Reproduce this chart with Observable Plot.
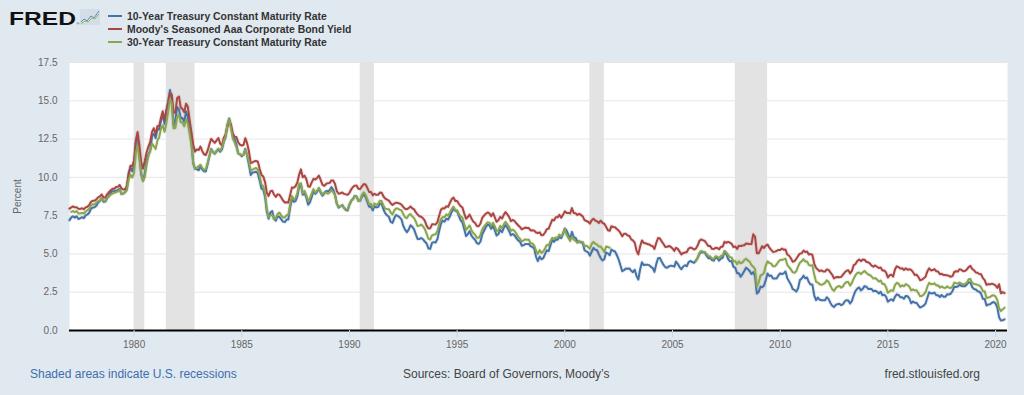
<!DOCTYPE html>
<html>
<head>
<meta charset="utf-8">
<script src="https://cdn.jsdelivr.net/npm/d3@7"></script>
<script src="https://cdn.jsdelivr.net/npm/@observablehq/plot@0.6"></script>
<style>
  html, body { margin: 0; padding: 0; background: #e1e9f0; }
  #page { position: relative; width: 1024px; height: 395px; background: #e1e9f0; overflow: hidden; font-family: "Liberation Sans", Arial, sans-serif; }
  #chart { position: absolute; left: 0; top: 0; }
  #overlay { position: absolute; left: 0; top: 0; pointer-events: none; }
</style>
</head>
<body>
<div id="page">
  <div id="chart"></div>
  <svg id="overlay" width="1024" height="395"></svg>
</div>
<script>
// ---------- DATA (monthly, Jan 1977 – Jun 2020) ----------
const firstMonth = "1977-01";
const lastMonth = "2020-06";

const seriesNames = [
  "10-Year Treasury Constant Maturity Rate",
  "Moody's Seasoned Aaa Corporate Bond Yield",
  "30-Year Treasury Constant Maturity Rate"
];
const seriesColors = ["#4572a7", "#aa4643", "#89a54e"];

const tenYear = [
7.21,7.39,7.46,7.37,7.46,7.28,7.33,7.40,7.34,7.52,7.58,7.69,
7.96,8.03,8.04,8.15,8.35,8.46,8.64,8.41,8.42,8.64,8.81,9.01,
9.10,9.10,9.12,9.18,9.25,8.91,8.95,9.03,9.33,10.30,10.65,10.39,
10.80,12.41,12.75,11.47,10.18,9.78,10.25,11.10,11.51,11.75,12.68,12.84,
12.57,13.19,13.12,13.68,14.10,13.47,14.28,14.94,15.70,15.15,13.39,13.72,
14.59,14.43,13.86,13.87,13.62,14.30,13.95,13.06,12.34,10.91,10.55,10.54,
10.46,10.72,10.51,10.40,10.38,10.85,11.38,11.85,11.65,11.54,11.69,11.83,
11.67,11.84,12.32,12.63,13.41,13.85,13.36,12.72,12.52,12.16,11.57,11.50,
11.38,11.51,11.86,11.43,10.85,10.16,10.31,10.33,10.37,10.24,9.78,9.26,
9.19,8.70,7.78,7.30,7.71,7.80,7.30,7.17,7.45,7.43,7.25,7.11,
7.08,7.25,7.25,8.02,8.61,8.40,8.45,8.76,9.42,9.52,8.86,8.99,
8.67,8.21,8.37,8.72,9.09,8.92,9.06,9.26,8.98,8.80,8.96,9.11,
9.09,9.17,9.36,9.18,8.86,8.28,8.02,8.11,8.19,8.01,7.87,7.84,
8.21,8.47,8.59,8.79,8.76,8.48,8.47,8.75,8.89,8.72,8.39,8.08,
8.09,7.85,8.11,8.04,8.07,8.28,8.27,7.90,7.65,7.53,7.42,7.09,
7.03,7.34,7.54,7.48,7.39,7.26,6.84,6.59,6.42,6.59,6.87,6.77,
6.60,6.26,5.98,5.97,6.04,5.96,5.81,5.68,5.36,5.33,5.72,5.77,
5.75,5.97,6.48,6.97,7.18,7.10,7.30,7.24,7.46,7.74,7.96,7.81,
7.78,7.47,7.20,7.06,6.63,6.17,6.28,6.49,6.20,6.04,5.93,5.71,
5.65,5.81,6.27,6.51,6.74,6.91,6.87,6.64,6.83,6.53,6.20,6.30,
6.58,6.42,6.69,6.89,6.71,6.49,6.22,6.30,6.21,6.03,5.88,5.81,
5.54,5.57,5.65,5.64,5.65,5.50,5.46,5.34,4.81,4.53,4.83,4.65,
4.72,5.00,5.23,5.18,5.54,5.90,5.79,5.94,5.92,6.11,6.03,6.28,
6.66,6.52,6.26,5.99,6.44,6.10,6.05,5.83,5.80,5.74,5.72,5.24,
5.16,5.10,4.89,5.14,5.39,5.28,5.24,4.97,4.73,4.57,4.65,5.09,
5.04,4.91,5.28,5.21,5.16,4.93,4.65,4.26,3.87,3.94,4.05,4.03,
4.05,3.90,3.81,3.96,3.57,3.33,3.98,4.45,4.27,4.29,4.30,4.27,
4.15,4.08,3.83,4.35,4.72,4.73,4.50,4.28,4.13,4.10,4.19,4.23,
4.22,4.17,4.50,4.34,4.14,4.00,4.18,4.26,4.20,4.46,4.54,4.47,
4.42,4.57,4.72,4.99,5.11,5.11,5.09,4.88,4.72,4.73,4.60,4.56,
4.76,4.72,4.56,4.69,4.75,5.10,5.00,4.67,4.52,4.53,4.15,4.10,
3.74,3.74,3.51,3.68,3.88,4.10,4.01,3.89,3.69,3.81,3.53,2.42,
2.52,2.87,2.82,2.93,3.29,3.72,3.56,3.59,3.40,3.39,3.40,3.59,
3.73,3.69,3.73,3.85,3.42,3.20,3.01,2.70,2.65,2.54,2.76,3.29,
3.39,3.58,3.41,3.46,3.17,3.00,3.00,2.30,1.98,2.15,2.01,1.98,
1.97,1.97,2.17,2.05,1.80,1.62,1.53,1.68,1.72,1.75,1.65,1.72,
1.91,1.98,1.96,1.76,1.93,2.30,2.58,2.74,2.81,2.62,2.72,2.90,
2.86,2.71,2.72,2.71,2.56,2.60,2.54,2.42,2.53,2.30,2.33,2.21,
1.88,1.98,2.04,1.94,2.20,2.36,2.32,2.17,2.17,2.07,2.26,2.24,
2.09,1.78,1.89,1.81,1.81,1.64,1.50,1.56,1.63,1.76,2.14,2.49,
2.43,2.42,2.48,2.30,2.30,2.19,2.32,2.21,2.20,2.36,2.35,2.40,
2.58,2.86,2.84,2.87,2.98,2.91,2.89,2.89,3.00,3.15,3.12,2.83,
2.71,2.68,2.57,2.53,2.40,2.07,2.06,1.63,1.70,1.71,1.81,1.86,
1.76,1.50,0.87,0.66,0.67,0.73
];

const aaaYield = [
7.96,8.04,8.10,8.04,8.05,7.95,7.94,7.98,7.92,8.04,8.08,8.19,
8.41,8.47,8.47,8.56,8.69,8.76,8.88,8.69,8.69,8.89,9.03,9.16,
9.25,9.26,9.37,9.38,9.50,9.29,9.20,9.23,9.44,10.13,10.76,10.74,
11.09,12.38,12.96,12.04,10.99,10.58,11.07,11.64,12.02,12.31,12.97,13.21,
12.81,13.35,13.33,13.88,14.32,13.75,14.38,14.89,15.49,15.40,14.22,14.23,
15.18,15.27,14.58,14.46,14.26,14.81,14.61,13.71,12.94,12.12,11.68,11.83,
11.79,12.01,11.73,11.51,11.46,11.74,12.15,12.51,12.37,12.25,12.41,12.57,
12.20,12.08,12.57,12.81,13.28,13.70,13.44,12.87,12.66,12.63,12.29,12.13,
12.08,12.13,12.56,12.23,11.72,10.94,10.97,11.05,11.07,11.02,10.55,10.16,
10.05,9.67,9.00,8.79,9.09,9.13,8.88,8.72,8.89,8.86,8.68,8.49,
8.36,8.38,8.36,8.85,9.33,9.32,9.42,9.67,10.18,10.52,10.01,10.11,
9.88,9.40,9.39,9.67,9.90,9.86,9.96,10.11,9.82,9.51,9.45,9.57,
9.62,9.64,9.80,9.79,9.57,9.10,8.93,8.96,9.01,8.92,8.89,8.86,
8.99,9.22,9.37,9.46,9.47,9.26,9.24,9.41,9.56,9.53,9.30,9.05,
9.04,8.83,8.93,8.86,8.86,9.01,9.00,8.75,8.61,8.55,8.48,8.31,
8.20,8.29,8.35,8.33,8.28,8.22,8.07,7.95,7.92,7.99,8.10,7.98,
7.91,7.71,7.58,7.46,7.43,7.33,7.17,6.85,6.66,6.67,6.93,6.93,
6.92,7.08,7.48,7.88,7.99,7.97,8.11,8.07,8.34,8.57,8.68,8.46,
8.46,8.26,8.12,8.03,7.65,7.30,7.41,7.57,7.32,7.12,7.02,6.82,
6.81,6.99,7.35,7.50,7.62,7.71,7.65,7.46,7.66,7.39,7.10,7.20,
7.42,7.31,7.55,7.73,7.58,7.41,7.14,7.22,7.15,7.00,6.87,6.76,
6.61,6.67,6.72,6.69,6.69,6.53,6.55,6.52,6.40,6.37,6.41,6.22,
6.24,6.40,6.62,6.64,6.93,7.23,7.19,7.40,7.39,7.55,7.36,7.55,
7.78,7.68,7.68,7.64,7.99,7.67,7.65,7.55,7.62,7.55,7.45,7.21,
7.15,7.10,6.98,7.20,7.29,7.18,7.13,7.02,7.17,7.03,6.97,6.77,
6.55,6.51,6.81,6.76,6.75,6.63,6.53,6.37,6.15,6.32,6.31,6.21,
6.17,5.95,5.89,5.74,5.22,4.97,5.49,5.88,5.72,5.70,5.65,5.62,
5.54,5.50,5.33,5.73,6.04,6.01,5.82,5.65,5.46,5.47,5.52,5.47,
5.36,5.20,5.40,5.33,5.15,4.96,5.06,5.09,5.13,5.35,5.42,5.37,
5.29,5.35,5.53,5.84,5.95,5.89,5.85,5.68,5.51,5.51,5.33,5.32,
5.40,5.39,5.30,5.47,5.47,5.79,5.73,5.79,5.74,5.66,5.44,5.49,
5.33,5.53,5.51,5.55,5.57,5.68,5.67,5.64,5.65,6.28,6.12,5.05,
5.05,5.27,5.50,5.39,5.54,5.61,5.41,5.26,5.13,5.15,5.19,5.26,
5.26,5.35,5.27,5.29,4.96,4.88,4.72,4.49,4.53,4.68,4.87,5.02,
5.04,5.22,5.13,5.16,4.96,4.99,4.93,4.37,4.09,3.98,3.87,3.93,
3.85,3.85,3.99,3.96,3.80,3.64,3.40,3.48,3.49,3.47,3.50,3.65,
3.80,3.90,3.93,3.73,3.89,4.27,4.34,4.54,4.64,4.53,4.63,4.62,
4.49,4.45,4.38,4.24,4.16,4.25,4.16,4.08,4.11,3.92,3.92,3.79,
3.46,3.61,3.64,3.52,3.98,4.19,4.15,4.04,4.07,3.95,4.06,3.97,
4.00,3.96,3.82,3.62,3.65,3.50,3.28,3.32,3.41,3.51,3.86,4.06,
3.92,3.95,4.01,3.87,3.85,3.68,3.70,3.63,3.63,3.60,3.57,3.51,
3.55,3.82,3.87,3.85,4.00,3.96,3.87,3.88,3.98,4.14,4.22,4.02,
3.93,3.79,3.77,3.69,3.67,3.42,3.29,2.98,3.03,3.01,3.06,3.01,
2.94,2.78,3.02,2.43,2.50,2.44
];

const thirtyYear = [
null,7.75,7.80,7.73,7.80,7.64,7.64,7.68,7.64,7.77,7.85,7.94,
8.18,8.25,8.23,8.34,8.43,8.50,8.65,8.47,8.47,8.69,8.75,8.88,
8.94,9.00,9.03,9.08,9.19,8.92,8.93,9.03,9.16,9.85,10.18,9.99,
10.29,11.66,12.07,11.16,10.34,9.76,10.03,10.84,11.40,11.76,12.20,12.04,
11.86,12.42,12.61,13.17,13.39,12.97,13.52,14.31,15.10,14.87,13.20,13.22,
13.95,14.08,13.61,13.57,13.33,13.80,13.49,12.86,12.07,10.93,10.58,10.61,
10.74,10.82,10.62,10.48,10.53,10.93,11.40,11.82,11.63,11.58,11.75,11.88,
11.75,11.95,12.38,12.65,13.43,13.80,13.21,12.54,12.29,11.98,11.56,11.52,
11.45,11.47,11.81,11.47,11.05,10.44,10.50,10.56,10.61,10.50,10.06,9.54,
9.40,8.93,7.96,7.39,7.52,7.57,7.27,7.33,7.62,7.70,7.52,7.37,
7.39,7.54,7.55,8.25,8.78,8.57,8.64,8.97,9.59,9.61,8.95,9.12,
8.83,8.43,8.63,8.95,9.23,9.00,9.14,9.32,9.06,8.89,9.02,9.01,
8.93,9.01,9.17,9.03,8.83,8.27,8.08,8.12,8.15,8.00,7.90,7.90,
8.26,8.50,8.56,8.76,8.73,8.46,8.50,8.86,9.03,8.86,8.54,8.24,
8.27,8.03,8.29,8.21,8.27,8.47,8.45,8.14,7.95,7.93,7.92,7.70,
7.58,7.85,7.97,7.96,7.89,7.84,7.60,7.39,7.34,7.53,7.61,7.44,
7.34,7.09,6.82,6.85,6.92,6.81,6.63,6.32,6.00,5.94,6.21,6.25,
6.29,6.49,6.91,7.27,7.41,7.40,7.58,7.49,7.71,7.94,8.08,7.87,
7.85,7.61,7.45,7.36,6.95,6.57,6.72,6.86,6.55,6.37,6.26,6.06,
6.05,6.24,6.60,6.79,6.93,7.06,7.03,6.84,7.03,6.81,6.48,6.55,
6.83,6.69,6.93,7.09,6.94,6.77,6.51,6.58,6.50,6.33,6.11,5.99,
5.81,5.89,5.95,5.92,5.93,5.70,5.68,5.54,5.20,5.01,5.25,5.06,
5.16,5.37,5.58,5.55,5.81,6.04,5.98,6.07,6.07,6.26,6.15,6.35,
6.63,6.23,6.05,5.85,6.15,5.93,5.85,5.72,5.83,5.80,5.78,5.49,
5.54,5.45,5.34,5.65,5.78,5.67,5.61,5.48,5.48,5.32,5.12,5.48,
5.45,5.40,null,null,null,null,null,null,null,null,null,null,
null,null,null,null,null,null,null,null,null,null,null,null,
null,null,null,null,null,null,null,null,null,null,null,null,
null,null,null,null,null,null,null,null,null,null,null,null,
null,4.54,4.73,5.06,5.20,5.15,5.13,5.00,4.85,4.85,4.69,4.68,
4.85,4.82,4.72,4.87,4.90,5.20,5.11,4.93,4.79,4.77,4.52,4.53,
4.33,4.52,4.39,4.44,4.60,4.69,4.57,4.50,4.27,4.17,4.00,2.87,
3.13,3.59,3.64,3.76,4.23,4.52,4.41,4.37,4.19,4.19,4.31,4.49,
4.60,4.62,4.64,4.69,4.29,4.13,3.99,3.80,3.77,3.87,4.19,4.42,
4.52,4.65,4.51,4.50,4.29,4.23,4.27,3.65,3.18,3.13,3.02,2.98,
3.03,3.11,3.28,3.18,2.93,2.70,2.59,2.77,2.88,2.90,2.80,2.88,
3.08,3.17,3.16,2.93,3.11,3.40,3.61,3.76,3.79,3.68,3.80,3.89,
3.77,3.66,3.62,3.52,3.39,3.42,3.33,3.20,3.26,3.04,3.04,2.83,
2.46,2.57,2.63,2.59,2.96,3.11,3.07,2.86,2.95,2.89,3.03,2.97,
2.86,2.62,2.68,2.62,2.63,2.45,2.23,2.26,2.35,2.50,2.86,3.11,
3.02,3.03,3.08,2.94,2.96,2.80,2.88,2.80,2.78,2.88,2.80,2.77,
2.88,3.13,3.09,3.07,3.13,3.05,3.01,3.04,3.11,3.34,3.36,3.10,
3.04,3.02,2.98,2.94,2.82,2.57,2.57,2.12,2.16,2.19,2.28,2.30,
2.22,1.97,1.46,1.27,1.38,1.49
];

const recessionStart = ["1980-01-01", "1981-07-01", "1990-07-01", "2001-03-01", "2007-12-01"];
const recessionEnd   = ["1980-07-01", "1982-11-01", "1991-03-01", "2001-11-01", "2009-06-01"];

const yTicks = [0, 2.5, 5, 7.5, 10, 12.5, 15, 17.5];
const xTickYears = [1980, 1985, 1990, 1995, 2000, 2005, 2010, 2015, 2020];

const headerText = "FRED";
const footerLeft = "Shaded areas indicate U.S. recessions";
const footerMid = "Sources: Board of Governors, Moody’s";
const footerRight = "fred.stlouisfed.org";
const yLabel = "Percent";

// ---------- BUILD ----------
const parse = d3.utcParse("%Y-%m");
const months = d3.utcMonth.range(parse(firstMonth), d3.utcMonth.offset(parse(lastMonth), 1));
const seriesValues = [tenYear, aaaYield, thirtyYear];
const rows = [];
seriesValues.forEach((vals, s) => {
  months.forEach((m, i) => rows.push({date: m, value: vals[i], series: seriesNames[s]}));
});
const recessions = recessionStart.map((s, i) => ({start: new Date(s), end: new Date(recessionEnd[i])}));
const xTicks = xTickYears.map(y => new Date(Date.UTC(y, 0, 1)));

const font = "'Liberation Sans', Arial, sans-serif";

const lineMarks = [];
seriesNames.forEach((name, s) => {
  const data = rows.filter(r => r.series === name);
  lineMarks.push(Plot.line(data, {x: "date", y: "value", stroke: seriesColors[s], strokeWidth: 4, strokeOpacity: 0.12}));
});
seriesNames.forEach((name, s) => {
  const data = rows.filter(r => r.series === name);
  lineMarks.push(Plot.line(data, {x: "date", y: "value", stroke: seriesColors[s], strokeWidth: 2}));
});

const chart = Plot.plot({
  width: 1024,
  height: 395,
  marginLeft: 69,
  marginRight: 17,
  marginTop: 62,
  marginBottom: 65,
  style: {background: "transparent", fontFamily: font, fontSize: "10px", color: "#666", overflow: "visible"},
  x: {type: "utc", domain: [new Date(Date.UTC(1977, 0, 1)), new Date(Date.UTC(2020, 6, 22))]},
  y: {domain: [0, 17.5]},
  marks: [
    Plot.frame({fill: "white", stroke: "none"}),
    Plot.gridY(yTicks, {stroke: "#e6e6e6", strokeOpacity: 1}),
    Plot.rect(recessions, {x1: "start", x2: "end", fill: "#e3e3e3"}),
    ...lineMarks,
    Plot.ruleY([0], {stroke: "#000", strokeWidth: 2}),
    Plot.axisY(yTicks, {tickFormat: d3.format(".1f"), tickSize: 0, tickPadding: 12, fontSize: 10, fill: "#666",
      label: yLabel, labelAnchor: "center", labelArrow: "none", labelOffset: 56}),
    Plot.axisX(xTicks, {tickFormat: d3.utcFormat("%Y"), tickSize: 7, tickPadding: 3, stroke: "#ccd6eb", fill: "#666", fontSize: 10, label: null})
  ]
});
document.getElementById("chart").appendChild(chart);

// ---------- HEADER / FOOTER ----------
const ov = d3.select("#overlay").style("font-family", font);
ov.append("text").attr("x", 9).attr("y", 24.5).attr("font-size", 18.5).attr("font-weight", 900)
  .attr("textLength", 67).attr("lengthAdjust", "spacingAndGlyphs").attr("fill", "#111").text(headerText);
ov.append("text").attr("x", 76.5).attr("y", 25).attr("font-size", 4).attr("fill", "#333").text("®");
const icon = ov.append("g");
icon.append("rect").attr("x", 80).attr("y", 9).attr("width", 20).attr("height", 16).attr("fill", "#d3dde8");
icon.append("path").attr("d", "M81,22 L84,19 L87,21 L91,16 L94,18 L99,11").attr("fill", "none").attr("stroke", "#5b86b8").attr("stroke-width", 1);
icon.append("path").attr("d", "M81,24 L85,21 L88,22 L92,18 L95,19 L99,14").attr("fill", "none").attr("stroke", "#9bbb5c").attr("stroke-width", 1);

seriesNames.forEach((name, i) => {
  const y = 16 + i * 13;
  ov.append("line").attr("x1", 108).attr("x2", 122).attr("y1", y).attr("y2", y).attr("stroke", seriesColors[i]).attr("stroke-width", 2);
  ov.append("text").attr("x", 127).attr("y", y + 3.6).attr("font-size", 10.4).attr("font-weight", "bold").attr("fill", "#333").text(name);
});

ov.append("text").attr("x", 30).attr("y", 377.5).attr("font-size", 12).attr("fill", "#3d6eae").text(footerLeft);
ov.append("text").attr("x", 403).attr("y", 377.5).attr("font-size", 12).attr("fill", "#444").text(footerMid);
ov.append("text").attr("x", 980).attr("y", 377.5).attr("font-size", 12).attr("fill", "#444").attr("text-anchor", "end").text(footerRight);
</script>
</body>
</html>
